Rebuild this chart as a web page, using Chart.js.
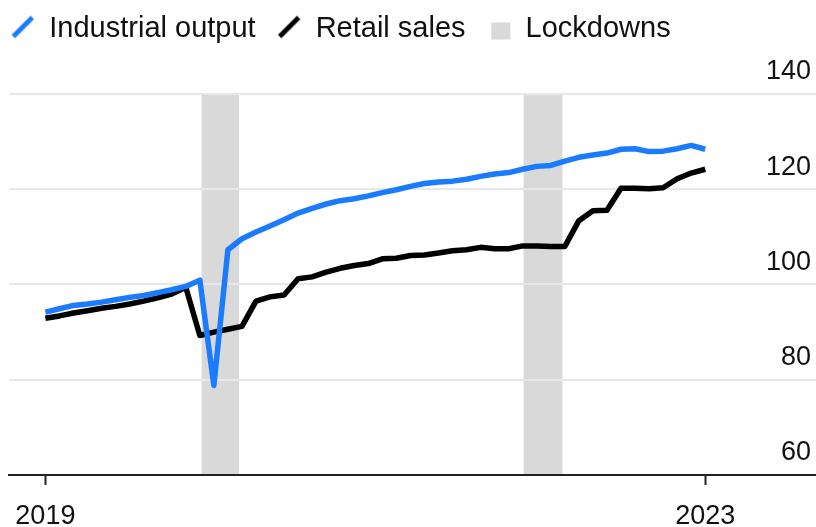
<!DOCTYPE html>
<html>
<head>
<meta charset="utf-8">
<script src="https://cdn.jsdelivr.net/npm/chart.js@4"></script>
<style>
  html, body { margin: 0; padding: 0; background: #ffffff; }
  canvas { display: block; }
</style>
</head>
<body>
<canvas id="chart" width="816" height="527"></canvas>
<script>
// Monthly index levels, January 2019 onwards
const industrialOutput = [
  94.2, 94.9, 95.6, 95.9, 96.3, 96.8, 97.3, 97.7, 98.3, 98.9, 99.6, 100.9,
  78.8, 107.3, 109.6, 111.0, 112.3, 113.6, 115.0, 116.0, 116.9, 117.6, 118.0, 118.6,
  119.3, 119.9, 120.6, 121.2, 121.5, 121.7, 122.1, 122.7, 123.2, 123.5, 124.2, 124.8,
  125.0, 125.9, 126.7, 127.2, 127.6, 128.4, 128.5, 127.9, 128.0, 128.5, 129.2, 128.4
];
const retailSales = [
  92.9, 93.4, 94.0, 94.5, 95.0, 95.4, 95.9, 96.5, 97.2, 98.0, 99.4, 89.3,
  90.0, 90.6, 91.2, 96.5, 97.4, 97.8, 101.2, 101.6, 102.6, 103.4, 104.0, 104.4,
  105.4, 105.5, 106.1, 106.2, 106.6, 107.1, 107.3, 107.8, 107.5, 107.5, 108.1, 108.1,
  108.0, 108.0, 113.4, 115.5, 115.6, 120.2, 120.2, 120.1, 120.3, 122.2, 123.4, 124.2
];
// Lockdown periods as [start, end] in month positions
const lockdownSpans = [[11.13, 13.79], [34.06, 36.83]];
const seriesNames = ['Industrial output', 'Retail sales', 'Lockdowns'];
const xTickIndex = [0, 47];
const xTickLabels = ['2019', '2023'];
const yTicks = [60, 80, 100, 120, 140];

const BLUE = '#1b7bff';
const BLACK = '#000000';
const SHADE = '#d9d9d9';
const TEXT = '#111111';
const FONT = "'Liberation Sans', Arial, Helvetica, sans-serif";

const toPoints = values => values.map((y, i) => ({ x: i, y }));

// Small legend glyphs: a slanted stroke for each line, a square for the shading
function legendMark(draw) {
  const c = document.createElement('canvas');
  c.width = 44; c.height = 32;
  draw(c.getContext('2d'));
  return c;
}
const slashMark = color => legendMark(g => {
  g.strokeStyle = color;
  g.lineWidth = 4.8;
  g.beginPath();
  g.moveTo(22 - 9.5, 16 - 1.5 + 9.5);
  g.lineTo(22 + 9.5, 16 - 1.5 - 9.5);
  g.stroke();
});
const squareMark = color => legendMark(g => {
  g.fillStyle = color;
  g.fillRect(22 + 1.8 - 9.5, 16 + 2.5 - 8.5, 19, 17);
});

// Shaded lockdown bands spanning the 60–140 range
const lockdownBands = {
  id: 'lockdownBands',
  beforeDraw(chart) {
    const { ctx, scales: { x, y } } = chart;
    const top = y.getPixelForValue(yTicks[yTicks.length - 1]);
    const bottom = y.getPixelForValue(yTicks[0]);
    ctx.save();
    ctx.fillStyle = SHADE;
    lockdownSpans.forEach(([a, b]) => {
      const l = x.getPixelForValue(a);
      const r = x.getPixelForValue(b);
      ctx.fillRect(l, top, r - l, bottom - top);
    });
    ctx.restore();
  }
};

// Pull the legend row up and to the left edge
const legendNudge = {
  id: 'legendNudge',
  afterLayout(chart) {
    chart.legend.left -= 18.7;
    chart.legend.top -= 7.5;
  }
};

const lineStyle = {
  borderWidth: 5.5,
  borderJoinStyle: 'round',
  pointRadius: 0,
  tension: 0,
  fill: false
};

new Chart(document.getElementById('chart'), {
  type: 'line',
  data: {
    datasets: [
      Object.assign({ label: seriesNames[0], data: toPoints(industrialOutput), borderColor: BLUE }, lineStyle),
      Object.assign({ label: seriesNames[1], data: toPoints(retailSales), borderColor: BLACK }, lineStyle)
    ]
  },
  options: {
    responsive: false,
    animation: false,
    events: [],
    layout: { padding: { left: 8, right: 0, top: 0, bottom: 0 } },
    plugins: {
      tooltip: { enabled: false },
      legend: {
        display: true,
        position: 'top',
        align: 'start',
        labels: {
          usePointStyle: true,
          pointStyleWidth: 24,
          padding: 21.5,
          color: TEXT,
          font: { family: FONT, size: 29 },
          generateLabels: () => [
            { text: seriesNames[0], pointStyle: slashMark(BLUE), fillStyle: BLUE, strokeStyle: BLUE, lineWidth: 0, hidden: false, fontColor: TEXT, datasetIndex: 0 },
            { text: seriesNames[1], pointStyle: slashMark(BLACK), fillStyle: BLACK, strokeStyle: BLACK, lineWidth: 0, hidden: false, fontColor: TEXT, datasetIndex: 1 },
            { text: seriesNames[2], pointStyle: squareMark(SHADE), fillStyle: SHADE, strokeStyle: SHADE, lineWidth: 0, hidden: false, fontColor: TEXT }
          ]
        }
      }
    },
    scales: {
      x: {
        type: 'linear',
        min: -2.56,
        max: 54.89,
        afterBuildTicks: s => { s.ticks = xTickIndex.map(v => ({ value: v })); },
        afterFit: s => { s.height = 52; },
        ticks: {
          autoSkip: false,
          maxRotation: 0,
          padding: 15,
          color: TEXT,
          font: { family: FONT, size: 27 },
          callback: v => xTickLabels[xTickIndex.indexOf(v)]
        },
        grid: { drawOnChartArea: false, drawTicks: true, tickLength: 10, tickWidth: 2, tickColor: '#222222' },
        border: { display: true, color: '#222222', width: 2 }
      },
      y: {
        type: 'linear',
        position: 'right',
        min: 60,
        max: 147.03,
        afterBuildTicks: s => { s.ticks = yTicks.map(v => ({ value: v })); },
        afterFit: s => { s.width = 0; },
        ticks: {
          mirror: true,
          padding: -5,
          labelOffset: -22,
          color: TEXT,
          font: { family: FONT, size: 27 }
        },
        grid: { color: '#e8e8e8', lineWidth: 2, drawTicks: false },
        border: { display: false }
      }
    }
  },
  plugins: [lockdownBands, legendNudge]
});
</script>
</body>
</html>
